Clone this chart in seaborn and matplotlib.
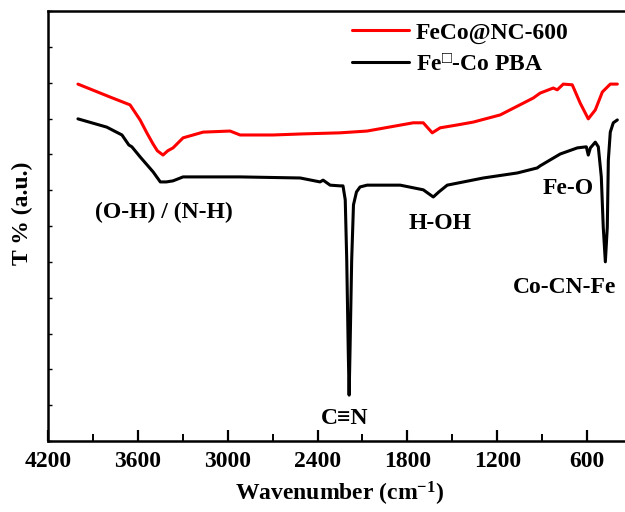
import matplotlib
matplotlib.use("Agg")
import matplotlib.pyplot as plt
from matplotlib.ticker import MultipleLocator, NullFormatter
import seaborn as sns
import pandas as pd

# FT-IR transmittance traces (wavenumber in cm^-1, transmittance in arbitrary units)
feco_wn = [4000, 3786, 3652, 3585, 3540, 3500, 3470, 3432, 3400, 3365, 3298, 3164,
           2984, 2917, 2697, 2500, 2250, 2069, 1761, 1694, 1634, 1581, 1467, 1360,
           1180, 960, 913, 826, 799, 759, 699, 646, 592, 545, 498, 445, 398]
feco_t = [9.96, 9.60, 9.38, 8.96, 8.60, 8.30, 8.10, 7.98, 8.10, 8.18, 8.46, 8.62,
          8.65, 8.54, 8.54, 8.57, 8.60, 8.65, 8.88, 8.88, 8.60, 8.74, 8.82, 8.90,
          9.10, 9.57, 9.71, 9.85, 9.80, 9.96, 9.94, 9.43, 8.99, 9.24, 9.74, 9.96,
          9.96]

pba_wn = [4000, 3808, 3706, 3660, 3640, 3585, 3498, 3450, 3410, 3365, 3298, 3137,
          2917, 2516, 2383, 2363, 2316, 2250, 2230, 2215, 2205, 2195, 2189, 2183,
          2172, 2160, 2140, 2116, 2069, 1848, 1694, 1627, 1590, 1534, 1293, 1066,
          933, 913, 779, 665, 605, 592, 578, 545, 525, 505, 492, 478, 465, 458,
          445, 425, 398]
pba_t = [8.99, 8.76, 8.54, 8.26, 8.21, 7.93, 7.51, 7.23, 7.23, 7.26, 7.37, 7.37,
         7.37, 7.34, 7.23, 7.28, 7.14, 7.12, 7.12, 6.73, 5.05, 2.54, 1.28, 2.54,
         5.05, 6.59, 6.95, 7.09, 7.14, 7.14, 7.01, 6.81, 6.95, 7.14, 7.34, 7.48,
         7.62, 7.68, 8.01, 8.18, 8.21, 7.98, 8.18, 8.34, 8.21, 7.37, 5.97, 5.00,
         5.97, 7.84, 8.62, 8.88, 8.96]

series_names = ["FeCo@NC-600", "Fe$^{\u25a1}$-Co PBA"]
series_colors = ["#ff0000", "#000000"]
x_ticks = [4200, 3600, 3000, 2400, 1800, 1200, 600]

# band assignments: (label, wavenumber, transmittance)
band_labels = ["(O-H) / (N-H)", "H-OH", "Fe-O", "Co-CN-Fe", "C\u2261N"]
band_wn = [3425, 1581, 727, 752, 2222]
band_t = [6.39, 6.06, 7.06, 4.28, 0.64]

df = pd.concat([
    pd.DataFrame({"wn": feco_wn, "T": feco_t, "sample": series_names[0]}),
    pd.DataFrame({"wn": pba_wn, "T": pba_t, "sample": series_names[1]}),
])

sns.set_style("ticks")
plt.rcParams["font.family"] = ["Liberation Serif", "DejaVu Serif"]
plt.rcParams["font.weight"] = "bold"
plt.rcParams["text.color"] = "black"
plt.rcParams["axes.labelcolor"] = "black"
plt.rcParams["xtick.color"] = "black"
plt.rcParams["ytick.color"] = "black"
plt.rcParams["mathtext.fontset"] = "custom"
plt.rcParams["mathtext.rm"] = "Liberation Serif:bold"
plt.rcParams["mathtext.it"] = "Liberation Serif:bold"
plt.rcParams["mathtext.bf"] = "Liberation Serif:bold"
plt.rcParams["mathtext.fallback"] = "stix"

fs = 17
fig = plt.figure(figsize=(6.25, 5.12), dpi=100)
ax = fig.add_axes([48 / 625, (512 - 441) / 512, (632 - 48) / 625, 430 / 512])

sns.lineplot(data=df, x="wn", y="T", hue="sample", hue_order=series_names,
             palette=series_colors, sort=True, estimator=None, linewidth=2.2,
             ax=ax)

ax.set_xlim(4200, 300)
ax.set_ylim(0, 12)
ax.set_xticks(x_ticks)
ax.set_xticklabels([str(v) for v in x_ticks], fontsize=fs, fontweight="bold")
ax.xaxis.set_minor_locator(MultipleLocator(300))
ax.yaxis.set_major_locator(MultipleLocator(1))
ax.yaxis.set_major_formatter(NullFormatter())
ax.tick_params(axis="x", which="major", direction="in", length=8, width=1.6,
               pad=7, top=False, colors="black")
ax.tick_params(axis="x", which="minor", direction="in", length=5, width=1.4,
               top=False, colors="black")
ax.tick_params(axis="y", which="major", direction="in", length=3, width=1.0,
               right=False, colors="black")
for side in ["left", "right", "top", "bottom"]:
    ax.spines[side].set_visible(True)
    ax.spines[side].set_linewidth(1.8)
    ax.spines[side].set_color("black")

ax.set_xlabel("Wavenumber (cm$^{-1}$)", fontsize=fs, fontweight="bold",
              labelpad=6, color="black")
ax.set_ylabel("T % (a.u.)", fontsize=fs, fontweight="bold", color="black")
ax.yaxis.set_label_coords(-0.026, 0.53)

for lab, wx, ty in zip(band_labels, band_wn, band_t):
    ax.text(wx, ty, lab, fontsize=fs, fontweight="bold", ha="center",
            va="center", color="black")

leg = ax.legend(loc="upper left", bbox_to_anchor=(352 / 625, 1 - 22 / 512),
                bbox_transform=fig.transFigure, frameon=False, fontsize=fs,
                handlelength=2.4, handletextpad=0.3, labelspacing=0.43,
                borderpad=0, borderaxespad=0)
for line in leg.get_lines():
    line.set_linewidth(2.2)
for txt in leg.get_texts():
    txt.set_color("black")

fig.savefig("out.png", dpi=100)
